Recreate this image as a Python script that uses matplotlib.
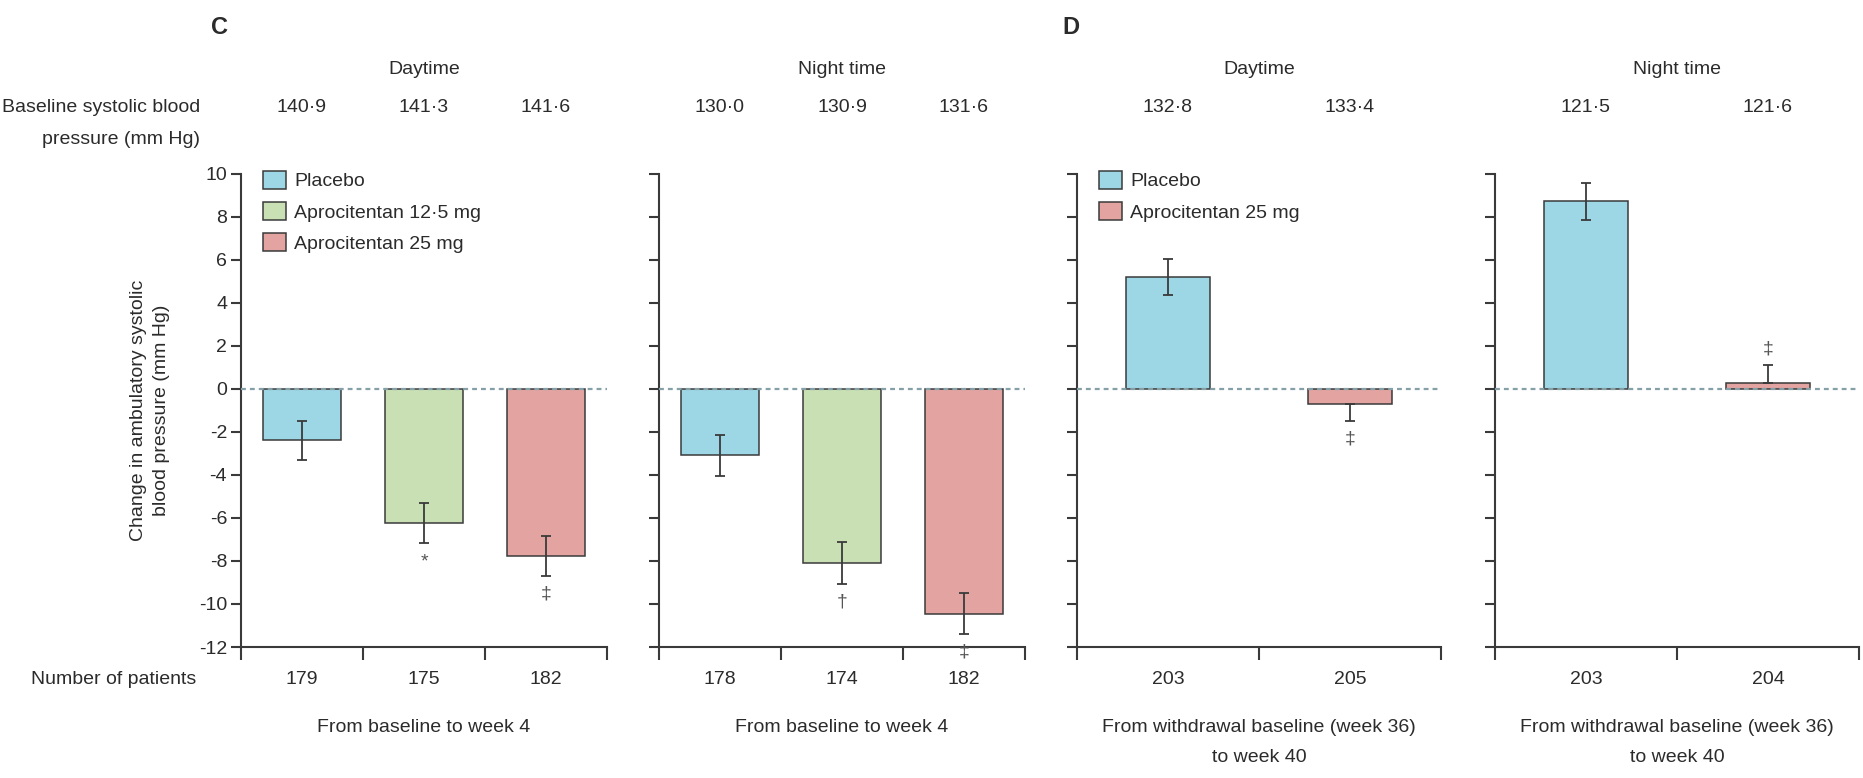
import matplotlib.pyplot as plt
from matplotlib.patches import Patch
from matplotlib.transforms import blended_transform_factory

plt.rcParams["font.family"] = ["Liberation Sans", "DejaVu Sans"]
plt.rcParams["axes.unicode_minus"] = False

TEXT = "#2b2b2b"
EDGE = "#3a3a3a"
ZERO = "#86a0a8"
BLUE = "#9dd6e5"
GREEN = "#c8e0b3"
RED = "#e2a3a1"

# panel C: three groups
c_groups = ["Placebo", "Aprocitentan 12·5 mg", "Aprocitentan 25 mg"]
c_colors = [BLUE, GREEN, RED]
c_day = [-2.4, -6.25, -7.75]
c_day_err = [0.92, 0.93, 0.93]
c_night = [-3.1, -8.1, -10.45]
c_night_err = [0.97, 0.98, 0.95]
c_day_base = ["140·9", "141·3", "141·6"]
c_night_base = ["130·0", "130·9", "131·6"]
c_day_n = [179, 175, 182]
c_night_n = [178, 174, 182]
c_day_sig = ["", "*", "‡"]
c_night_sig = ["", "†", "‡"]

# panel D: two groups (withdrawal)
d_groups = ["Placebo", "Aprocitentan 25 mg"]
d_colors = [BLUE, RED]
d_day = [5.2, -0.7]
d_day_lo = [0.84, 0.8]
d_day_hi = [0.84, 0.0]
d_night = [8.7, 0.25]
d_night_lo = [0.87, 0.0]
d_night_hi = [0.87, 0.85]
d_day_base = ["132·8", "133·4"]
d_night_base = ["121·5", "121·6"]
d_day_n = [203, 205]
d_night_n = [203, 204]
d_day_sig = ["", "‡"]
d_night_sig = ["", "‡"]

W, H = 1863, 778
fig = plt.figure(figsize=(W / 100, H / 100), dpi=100)
FS = 14


def fy(py):
    return 1 - py / H


def fx(px):
    return px / W


def add_panel(left, width, vals, lo, hi, colors, base, nums, sig, period, bar_w, groups, show_y, sub):
    ax = fig.add_axes([fx(left), fy(647), fx(width), fy(173.5) - fy(647)])
    x = list(range(len(vals)))
    ax.bar(x, vals, width=bar_w, color=colors, edgecolor=EDGE, linewidth=1.1, zorder=2)
    ax.errorbar(x, vals, yerr=[lo, hi], fmt="none", ecolor=EDGE, elinewidth=1.3,
                capsize=3.5, capthick=1.3, zorder=3)
    ax.axhline(0, color=ZERO, lw=1.6, ls=(0, (2.2, 1.8)), zorder=4)
    ax.set_xlim(-0.5, len(vals) - 0.5)
    ax.set_ylim(-12, 10)
    ax.set_xticks([i - 0.5 for i in range(len(vals) + 1)])
    ax.set_xticklabels([])
    ax.set_yticks(range(-12, 11, 2))
    if show_y:
        ax.set_yticklabels([str(v) for v in range(-12, 11, 2)], fontsize=FS, color=TEXT)
    else:
        ax.set_yticklabels([])
    for s in ["top", "right"]:
        ax.spines[s].set_visible(False)
    for s in ["left", "bottom"]:
        ax.spines[s].set_color(EDGE)
        ax.spines[s].set_linewidth(1.5)
    ax.tick_params(axis="y", length=7, width=1.5, color=EDGE, pad=3)
    ax.tick_params(axis="x", length=9, width=1.5, color=EDGE)

    for i, s in enumerate(sig):
        if not s:
            continue
        if vals[i] < 0:
            ax.text(i, vals[i] - lo[i] - 0.85, s, ha="center", va="center", fontsize=FS, color="#555555")
        else:
            ax.text(i, vals[i] + hi[i] + 0.75, s, ha="center", va="center", fontsize=FS, color="#555555")

    tr = blended_transform_factory(ax.transData, fig.transFigure)
    for i in x:
        ax.text(i, fy(107), base[i], transform=tr, ha="center", va="center", fontsize=FS, color=TEXT)
        ax.text(i, fy(679), str(nums[i]), transform=tr, ha="center", va="center", fontsize=FS, color=TEXT)
    mid = (len(vals) - 1) / 2
    ax.text(mid, fy(69), period, transform=tr, ha="center", va="center", fontsize=FS, color=TEXT)
    for j, line in enumerate(sub):
        ax.text(mid, fy(727 + 31 * j), line, transform=tr, ha="center", va="center",
                fontsize=FS, color=TEXT)

    if groups:
        handles = [Patch(facecolor=c, edgecolor=EDGE, linewidth=1.1) for c in colors]
        ax.legend(handles, groups, loc="upper left", bbox_to_anchor=(22 / width, 1.005),
                  frameon=False, fontsize=FS, handlelength=1.2, handleheight=1.0,
                  handletextpad=0.4, labelspacing=0.6, borderpad=0, borderaxespad=0,
                  labelcolor=TEXT)
    return ax


add_panel(241, 366, c_day, c_day_err, c_day_err, c_colors, c_day_base, c_day_n, c_day_sig,
          "Daytime", 0.64, c_groups, True, ["From baseline to week 4"])
add_panel(659, 366, c_night, c_night_err, c_night_err, c_colors, c_night_base, c_night_n,
          c_night_sig, "Night time", 0.64, None, False, ["From baseline to week 4"])
withdrawal = ["From withdrawal baseline (week 36)", "to week 40"]
add_panel(1077, 364, d_day, d_day_lo, d_day_hi, d_colors, d_day_base, d_day_n, d_day_sig,
          "Daytime", 0.46, d_groups, False, withdrawal)
add_panel(1495, 364, d_night, d_night_lo, d_night_hi, d_colors, d_night_base, d_night_n,
          d_night_sig, "Night time", 0.46, None, False, withdrawal)

fig.text(fx(219), fy(28), "C", ha="center", va="center", fontsize=17, fontweight="bold", color=TEXT)
fig.text(fx(1071), fy(28), "D", ha="center", va="center", fontsize=17, fontweight="bold", color=TEXT)
fig.text(fx(200), fy(107), "Baseline systolic blood", ha="right", va="center", fontsize=FS, color=TEXT)
fig.text(fx(200), fy(140), "pressure (mm Hg)", ha="right", va="center", fontsize=FS, color=TEXT)
fig.text(fx(196), fy(679), "Number of patients", ha="right", va="center", fontsize=FS, color=TEXT)
fig.text(fx(150), fy(410), "Change in ambulatory systolic\nblood pressure (mm Hg)", rotation=90,
         ha="center", va="center", multialignment="center", linespacing=1.4,
         fontsize=FS, color=TEXT)

fig.savefig("out.png", dpi=100, facecolor="white")
